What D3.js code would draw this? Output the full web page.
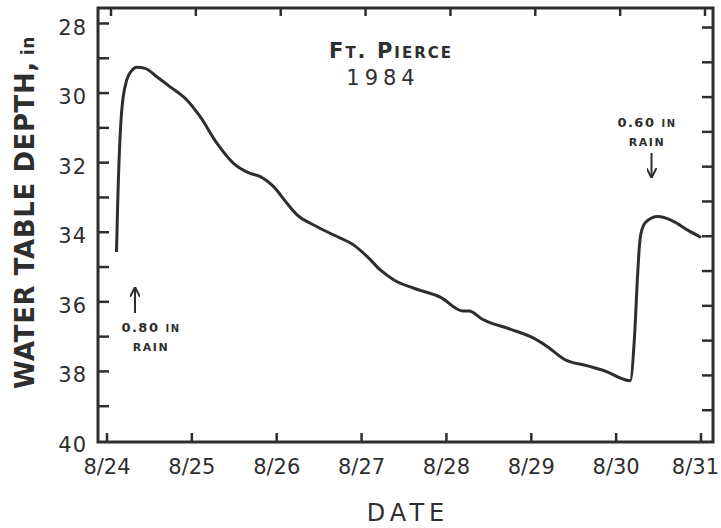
<!DOCTYPE html>
<meta charset="utf-8">
<script src="https://d3js.org/d3.v7.min.js"></script>
<style>
  body { margin: 0; background: #fff; }
  text { fill: #2e2e2e; font-family: "DejaVu Sans", sans-serif; }
</style>
<div id="chart"></div>
<script>

// water table depth (in), by fractional day of August 1984
var days   = [24.112, 24.124, 24.174, 24.233, 24.283, 24.351, 24.449, 24.587, 24.744, 24.941,
              25.098, 25.295, 25.491, 25.688, 25.806, 25.963, 26.122, 26.240, 26.436, 26.672,
              26.908, 27.067, 27.224, 27.381, 27.617, 27.932, 28.188, 28.266, 28.424, 28.758,
              29.033, 29.191, 29.387, 29.663, 29.860, 30.166, 30.214, 30.254, 30.275, 30.293,
              30.352, 30.490, 30.686, 30.844, 31.001];
var depths = [34.57, 33.36, 30.49, 29.62, 29.38, 29.26, 29.29, 29.53, 29.82, 30.20,
              30.68, 31.44, 32.02, 32.31, 32.40, 32.69, 33.17, 33.50, 33.79, 34.08,
              34.37, 34.70, 35.09, 35.37, 35.61, 35.87, 36.26, 36.26, 36.50, 36.79,
              37.05, 37.29, 37.65, 37.84, 37.98, 38.27, 37.10, 35.18, 34.37, 34.03,
              33.70, 33.55, 33.70, 33.94, 34.15];

var xTickDays   = [24, 25, 26, 27, 28, 29, 30, 31];
var xTickLabels = ["8/24", "8/25", "8/26", "8/27", "8/28", "8/29", "8/30", "8/31"];
var yMinor      = d3.range(28, 40);           // one tick per inch
var yLabels     = [28, 30, 32, 34, 36, 38, 40];

var width = 721,
    height = 528;
var frame = {left: 98, right: 713, top: 8, bottom: 442};
var ink = "#2e2e2e";

var x = d3.scaleLinear().domain([24, 31]).range([107, 701]);
var y = d3.scaleLinear().domain([28, 40]).range([23.5, 441]);

var svg = d3.select("#chart")
  .append("svg")
    .attr("width", width)
    .attr("height", height);

// box round the plot
svg.append("rect")
    .attr("x", frame.left)
    .attr("y", frame.top)
    .attr("width", frame.right - frame.left)
    .attr("height", frame.bottom - frame.top)
    .attr("fill", "none")
    .attr("stroke", ink)
    .attr("stroke-width", 3);

// ticks on all four sides, pointing inward
var tk = svg.append("g").attr("stroke", ink).attr("stroke-width", 2.5);
yMinor.forEach(function(v) {
  tk.append("line").attr("x1", frame.left).attr("x2", frame.left + 11)
    .attr("y1", y(v)).attr("y2", y(v));
  tk.append("line").attr("x1", frame.right).attr("x2", frame.right - 11)
    .attr("y1", y(v) + 4).attr("y2", y(v) + 4);
});
xTickDays.forEach(function(d) {
  tk.append("line").attr("x1", x(d)).attr("x2", x(d))
    .attr("y1", frame.bottom).attr("y2", frame.bottom - 9);
  tk.append("line").attr("x1", x(d) + 4).attr("x2", x(d) + 4)
    .attr("y1", frame.top).attr("y2", frame.top + 8);
});

// tick labels
svg.selectAll(".ylab")
  .data(yLabels)
  .enter().append("text")
    .attr("x", 87)
    .attr("y", function(d) { return y(d) + 11; })
    .attr("text-anchor", "end")
    .style("font-size", "21px")
    .style("letter-spacing", "1px")
    .text(function(d) { return d; });

var last = xTickDays.length - 1;
svg.selectAll(".xlab")
  .data(xTickDays)
  .enter().append("text")
    .attr("x", function(d, i) { return i === last ? 719 : x(d); })
    .attr("y", 474)
    .attr("text-anchor", function(d, i) { return i === last ? "end" : "middle"; })
    .style("font-size", "21px")
    .text(function(d, i) { return xTickLabels[i]; });

// axis titles
svg.append("text")
    .attr("x", 408)
    .attr("y", 521)
    .attr("text-anchor", "middle")
    .style("font-size", "24px")
    .style("letter-spacing", "5px")
    .text("DATE");

var yt = svg.append("text")
    .attr("transform", "translate(34,389) rotate(-90)")
    .attr("text-anchor", "start")
    .style("font-size", "26px")
    .style("font-weight", "bold")
    .style("letter-spacing", "0.6px");
yt.append("tspan").text("WATER TABLE DEPTH,");
yt.append("tspan").attr("dx", 6).style("font-size", "17px").text("in");

// the trace
var line = d3.line()
    .x(function(d, i) { return x(days[i]); })
    .y(function(d) { return y(d); })
    .curve(d3.curveMonotoneX);

svg.append("path")
    .attr("d", line(depths))
    .attr("fill", "none")
    .attr("stroke", ink)
    .attr("stroke-width", 3)
    .attr("stroke-linejoin", "round");

// station title
svg.append("text")
    .attr("x", 391)
    .attr("y", 58)
    .attr("text-anchor", "middle")
    .style("font-size", "21px")
    .style("font-weight", "bold")
    .style("font-variant", "small-caps")
    .style("letter-spacing", "2px")
    .text("Ft. Pierce");
svg.append("text")
    .attr("x", 383)
    .attr("y", 85)
    .attr("text-anchor", "middle")
    .style("font-size", "21px")
    .style("letter-spacing", "5px")
    .text("1984");

// rain notes
function rainNote(cx, y0, amount) {
  var t = svg.append("text")
      .attr("x", cx).attr("y", y0)
      .attr("text-anchor", "middle")
      .style("font-size", "13px")
      .style("font-weight", "bold")
      .style("letter-spacing", "1.5px");
  t.append("tspan").text(amount + " ");
  t.append("tspan").style("font-size", "10px").text("IN");
  svg.append("text")
      .attr("x", cx).attr("y", y0 + 19)
      .attr("text-anchor", "middle")
      .style("font-size", "11px")
      .style("font-weight", "bold")
      .style("letter-spacing", "1.5px")
      .text("RAIN");
}
rainNote(151, 332, "0.80");
rainNote(647, 127, "0.60");

// arrows: up at the first storm, down at the second
var defs = svg.append("defs");
defs.append("marker")
    .attr("id", "head")
    .attr("viewBox", "0 0 10 10")
    .attr("refX", 9).attr("refY", 5)
    .attr("markerWidth", 5).attr("markerHeight", 5)
    .attr("orient", "auto")
  .append("path")
    .attr("d", "M0,0 L10,5 L0,10")
    .attr("fill", "none")
    .attr("stroke", ink)
    .attr("stroke-width", 2);

svg.append("line")
    .attr("x1", 135).attr("y1", 313).attr("x2", 135).attr("y2", 288)
    .attr("stroke", ink).attr("stroke-width", 2)
    .attr("marker-end", "url(#head)");
svg.append("line")
    .attr("x1", 651.5).attr("y1", 153).attr("x2", 651.5).attr("y2", 177)
    .attr("stroke", ink).attr("stroke-width", 2)
    .attr("marker-end", "url(#head)");

</script>
